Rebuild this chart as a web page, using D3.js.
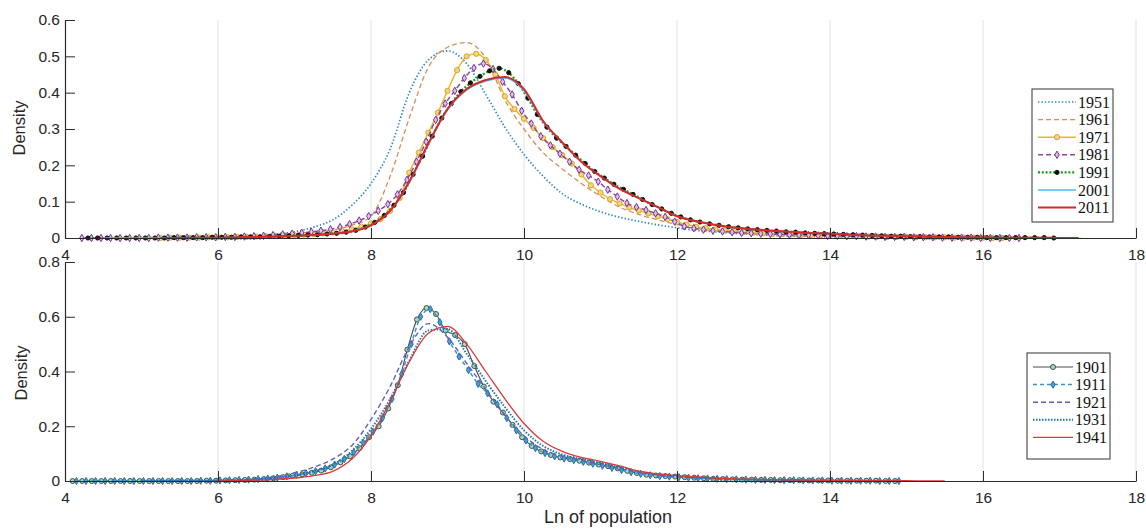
<!DOCTYPE html>
<html>
<head>
<meta charset="utf-8">
<script src="https://cdn.jsdelivr.net/npm/d3@7"></script>
<style>
  body { margin: 0; background: #fff; }
  svg { display: block; }
</style>
</head>
<body>
<svg id="chart" width="1146" height="529"></svg>
<script>
// ---- tick labels ----
const xTicks = [4, 6, 8, 10, 12, 14, 16, 18];
const topYTicks = [0, 0.1, 0.2, 0.3, 0.4, 0.5, 0.6];
const bottomYTicks = [0, 0.2, 0.4, 0.6, 0.8];

// ---- categories ----
const topYears = ["1951", "1961", "1971", "1981", "1991", "2001", "2011"];
const bottomYears = ["1901", "1911", "1921", "1931", "1941"];

// ---- kernel density estimates of ln(population), per census year ----
// each grid is [first x, spacing]; values are densities at those x
const grid1951 = [4.5, 0.25];
const dens1951 = [0,0,0.001,0.001,0.002,0.002,0.003,0.005,
  0.007,0.011,0.017,0.03,0.05,0.09,0.15,0.245,
  0.4,0.49,0.515,0.48,0.395,0.305,0.23,0.17,
  0.122,0.093,0.072,0.057,0.046,0.036,0.028,0.021,
  0.017,0.013,0.01,0.007,0.005,0.004,0.003,0.002,
  0.001,0.001,0];

const grid1961 = [4.5, 0.25];
const dens1961 = [0,0,0,0.001,0.001,0.002,0.003,0.004,
  0.006,0.008,0.011,0.016,0.022,0.035,0.06,0.17,
  0.33,0.47,0.525,0.538,0.495,0.38,0.3,0.235,
  0.19,0.15,0.115,0.085,0.065,0.05,0.037,0.027,
  0.02,0.015,0.011,0.008,0.006,0.005,0.004,0.003,
  0.002,0.002,0.001,0.001,0];

const grid1971 = [5.25, 0.125];
const dens1971 = [0,0.001,0.001,0.001,0.001,0.002,0.002,0.002,
  0.003,0.003,0.004,0.005,0.006,0.007,0.008,0.009,
  0.011,0.013,0.015,0.019,0.024,0.031,0.04,0.052,
  0.075,0.11,0.18,0.235,0.29,0.345,0.405,0.462,
  0.5,0.507,0.49,0.45,0.39,0.355,0.328,0.303,
  0.275,0.25,0.228,0.205,0.175,0.145,0.125,0.107,
  0.095,0.084,0.076,0.068,0.06,0.052,0.044,0.037,
  0.031,0.027,0.024,0.021,0.019,0.017,0.015,0.013,
  0.012,0.011,0.01,0.009,0.008,0.007,0.006,0.006,
  0.005,0.005,0.004,0.004,0.003,0.003,0.003,0.002,
  0.002,0.002,0.002,0.001,0.001,0.001,0.001,0,
  0];

const grid1981 = [4.22, 0.125];
const dens1981 = [0,0,0,0,0,0,0,0,
  0.001,0.001,0.001,0.001,0.002,0.002,0.002,0.003,
  0.003,0.004,0.005,0.006,0.008,0.01,0.012,0.014,
  0.017,0.02,0.024,0.03,0.038,0.048,0.06,0.075,
  0.093,0.12,0.16,0.21,0.265,0.325,0.37,0.405,
  0.44,0.468,0.48,0.465,0.43,0.395,0.35,0.315,
  0.28,0.255,0.232,0.21,0.188,0.172,0.155,0.133,
  0.114,0.096,0.085,0.077,0.068,0.058,0.045,0.032,
  0.027,0.023,0.02,0.018,0.016,0.014,0.013,0.012,
  0.011,0.01,0.009,0.008,0.008,0.007,0.006,0.006,
  0.005,0.005,0.004,0.004,0.003,0.003,0.003,0.002,
  0.002,0.002,0.001,0.001,0.001,0.001,0,0,
  0,0,0];

const grid1991 = [4.3, 0.125];
const dens1991 = [0,0,0,0,0,0,0,0,
  0,0.001,0.001,0.001,0.001,0.002,0.002,0.002,
  0.003,0.003,0.003,0.004,0.005,0.006,0.007,0.008,
  0.009,0.011,0.013,0.016,0.021,0.03,0.043,0.062,
  0.09,0.125,0.175,0.225,0.28,0.33,0.37,0.403,
  0.427,0.445,0.46,0.467,0.455,0.425,0.385,0.34,
  0.305,0.275,0.252,0.228,0.205,0.183,0.165,0.148,
  0.134,0.12,0.106,0.092,0.08,0.068,0.058,0.05,
  0.044,0.039,0.035,0.031,0.028,0.025,0.023,0.021,
  0.019,0.017,0.016,0.014,0.013,0.012,0.011,0.01,
  0.009,0.008,0.007,0.006,0.005,0.005,0.004,0.004,
  0.003,0.003,0.003,0.002,0.002,0.002,0.001,0.001,
  0.001,0.001,0.001,0.001,0.001,0];

const grid2001 = [4.5, 0.25];
const dens2001 = [0,0,0,
  0,0,0.001,0.001,0.002,0.003,0.004,0.006,
  0.008,0.012,0.019,0.036,0.074,0.152,0.258,0.352,
  0.407,0.432,0.44,0.405,0.32,0.262,0.21,0.17,
  0.135,0.11,0.085,0.06,0.046,0.036,0.029,0.024,
  0.02,0.017,0.014,0.012,0.009,0.007,0.006,0.005,
  0.004,0.003,0.002,0.002,0.001,0.001,0.001,0];

const grid2011 = [5.25, 0.25];
const dens2011 = [0,0,0.001,0.001,0.002,0.003,0.004,0.006,
  0.008,0.012,0.018,0.035,0.075,0.155,0.26,0.355,
  0.41,0.435,0.443,0.41,0.322,0.263,0.21,0.17,
  0.135,0.11,0.085,0.06,0.046,0.036,0.029,0.024,
  0.02,0.017,0.014,0.012,0.009,0.007,0.006,0.005,
  0.004,0.003,0.002,0.002,0.001,0.001,0.001,0,
  0];

const grid1901 = [4.1, 0.125];
const dens1901 = [0,0,0,0,0,0,0,0,
  0,0,0,0,0,0,0.001,0.001,
  0.002,0.003,0.004,0.005,0.007,0.01,0.014,0.019,
  0.024,0.03,0.038,0.05,0.068,0.09,0.12,0.16,
  0.2,0.265,0.35,0.48,0.59,0.632,0.61,0.55,
  0.533,0.5,0.42,0.345,0.29,0.25,0.205,0.16,
  0.128,0.108,0.095,0.086,0.08,0.074,0.067,0.06,
  0.054,0.046,0.037,0.029,0.023,0.02,0.018,0.016,
  0.014,0.012,0.01,0.008,0.007,0.006,0.005,0.005,
  0.004,0.004,0.003,0.003,0.003,0.002,0.002,0.002,
  0.001,0.001,0.001,0.001,0.001,0,0];

const grid1911 = [4.15, 0.125];
const dens1911 = [0,0,0,0,0,0,0,0,
  0,0,0,0,0,0.001,0.001,0.002,
  0.003,0.004,0.005,0.007,0.009,0.012,0.017,0.022,
  0.028,0.036,0.046,0.06,0.08,0.105,0.14,0.18,
  0.23,0.3,0.39,0.5,0.6,0.628,0.58,0.51,
  0.455,0.405,0.355,0.32,0.28,0.23,0.185,0.148,
  0.12,0.102,0.09,0.082,0.076,0.07,0.063,0.056,
  0.048,0.04,0.032,0.026,0.021,0.018,0.016,0.014,
  0.012,0.01,0.009,0.008,0.007,0.006,0.005,0.004,
  0.004,0.003,0.003,0.003,0.002,0.002,0.002,0.001,
  0.001,0.001,0.001,0.001,0,0,0];

const grid1921 = [5.0, 0.25];
const dens1921 = [0,0,0.001,0.001,0.002,0.004,0.008,0.016,
  0.03,0.05,0.08,0.13,0.225,0.345,0.49,0.575,
  0.525,0.43,0.335,0.24,0.165,0.115,0.09,0.075,
  0.06,0.045,0.032,0.022,0.016,0.012,0.009,0.007,
  0.005,0.004,0.003,0.002,0.002,0.001,0.001,0.001,
  0];

const grid1931 = [5.0, 0.25];
const dens1931 = [0,0,0.001,0.001,0.002,0.003,0.006,0.011,
  0.02,0.035,0.06,0.11,0.19,0.3,0.44,0.55,
  0.555,0.465,0.365,0.27,0.185,0.128,0.097,0.08,
  0.066,0.05,0.035,0.024,0.017,0.013,0.01,0.007,
  0.005,0.004,0.003,0.002,0.002,0.001,0.001,0.001,
  0];

const grid1941 = [6.0, 0.25];
const dens1941 = [0,0.001,0.003,0.006,0.011,0.02,0.035,0.08,
  0.165,0.29,0.435,0.54,0.565,0.5,0.4,0.3,
  0.21,0.145,0.108,0.086,0.072,0.055,0.036,0.026,
  0.02,0.015,0.011,0.008,0.006,0.005,0.004,0.003,
  0.002,0.002,0.001,0.001,0.001,0,0];

// ---- series tables ----
const toPoints = (grid, vals) => vals.map((v, i) => ({ x: grid[0] + i * grid[1], y: v }));

const topSeries = [
  { name: topYears[0], pts: toPoints(grid1951, dens1951), color: "#2a86bf", width: 1.7, dash: "1.4 2" },
  { name: topYears[1], pts: toPoints(grid1961, dens1961), color: "#d98b5a", width: 1.3, dash: "5 3" },
  { name: topYears[2], pts: toPoints(grid1971, dens1971), color: "#e8b830", width: 1.5, dash: null,
    marker: { type: "circle", r: 2.6, fill: "#f3d57e", stroke: "#d9a520" } },
  { name: topYears[3], pts: toPoints(grid1981, dens1981), color: "#8a4a9e", width: 1.5, dash: "5 3",
    marker: { type: "diamond", size: 16, fill: "#dcc3ea", stroke: "#7e2f8e" } },
  { name: topYears[4], pts: toPoints(grid1991, dens1991), color: "#1a9a1a", width: 2.2, dash: "2 1.8",
    marker: { type: "circle", r: 2.1, fill: "#111", stroke: "#111" } },
  { name: topYears[5], pts: toPoints(grid2001, dens2001), color: "#4dbeee", width: 1.4, dash: null },
  { name: topYears[6], pts: toPoints(grid2011, dens2011), color: "#d42a2a", width: 2, dash: null }
];

const bottomSeries = [
  { name: bottomYears[0], pts: toPoints(grid1901, dens1901), color: "#4a4a4a", width: 1.1, dash: null,
    marker: { type: "circle", r: 2.5, fill: "#b7cfbd", stroke: "#2f5a45" } },
  { name: bottomYears[1], pts: toPoints(grid1911, dens1911), color: "#3a93cc", width: 1.5, dash: "4 3",
    marker: { type: "diamond", size: 15, fill: "#4a9ed6", stroke: "#2a6fa0" } },
  { name: bottomYears[2], pts: toPoints(grid1921, dens1921), color: "#6262b2", width: 1.4, dash: "5 3" },
  { name: bottomYears[3], pts: toPoints(grid1931, dens1931), color: "#1f72b0", width: 1.9, dash: "1.5 1.5" },
  { name: bottomYears[4], pts: toPoints(grid1941, dens1941), color: "#d83a3a", width: 1.3, dash: null }
];

// ---- layout ----
const svg = d3.select("#chart");
const x = d3.scaleLinear().domain([4, 18]).range([65, 1136]);
const yTop = d3.scaleLinear().domain([0, 0.6]).range([238, 20]);
const yBot = d3.scaleLinear().domain([0, 0.8]).range([481, 262]);

const axisColor = "#2b2b2b";
const sansFont = "'Liberation Sans', Arial, Helvetica, sans-serif";
const serifFont = "'Liberation Serif', 'Times New Roman', serif";

function drawMarker(sel, m, cx, cy) {
  if (m.type === "circle") {
    sel.append("circle").attr("cx", cx).attr("cy", cy).attr("r", m.r)
      .attr("fill", m.fill).attr("stroke", m.stroke).attr("stroke-width", 1);
  } else {
    sel.append("path").attr("d", d3.symbol(d3.symbolDiamond, m.size)())
      .attr("transform", `translate(${cx},${cy})`)
      .attr("fill", m.fill).attr("stroke", m.stroke).attr("stroke-width", 1);
  }
}

function drawPanel(y, yTicks, series, legend, labelPos) {
  const g = svg.append("g");
  const [yBottom, yTopPx] = y.range();

  // vertical grid
  g.append("g").selectAll("line").data(xTicks.slice(1)).join("line")
    .attr("x1", d => x(d)).attr("x2", d => x(d))
    .attr("y1", yTopPx).attr("y2", yBottom)
    .attr("stroke", "#e2e2e2").attr("stroke-width", 1);

  // density curves
  const line = d3.line().x(d => x(d.x)).y(d => y(d.y)).curve(d3.curveMonotoneX);
  series.forEach(s => {
    const sg = g.append("g");
    sg.append("path").datum(s.pts).attr("d", line)
      .attr("fill", "none").attr("stroke", s.color).attr("stroke-width", s.width)
      .attr("stroke-dasharray", s.dash).attr("stroke-linejoin", "round");
    if (s.marker) {
      s.pts.forEach(p => drawMarker(sg, s.marker, x(p.x), y(p.y)));
    }
  });

  // axes
  const ax = g.append("g").attr("transform", `translate(0,${yBottom})`)
    .call(d3.axisBottom(x).tickValues(xTicks).tickSizeInner(-10).tickSizeOuter(0)
      .tickPadding(11).tickFormat(d3.format("d")));
  const ay = g.append("g").attr("transform", `translate(${x.range()[0]},0)`)
    .call(d3.axisLeft(y).tickValues(yTicks).tickSizeInner(-10).tickSizeOuter(0)
      .tickPadding(5).tickFormat(d => d === 0 ? "0" : d3.format(".1f")(d)));
  [ax, ay].forEach(a => {
    a.select(".domain").attr("stroke", axisColor).attr("stroke-width", 1.2);
    a.selectAll(".tick line").attr("stroke", axisColor).attr("stroke-width", 1);
    a.selectAll(".tick text").attr("fill", "#262626")
      .style("font-family", sansFont).style("font-size", "15.5px");
  });

  // y label
  g.append("text").attr("transform", `translate(${labelPos[0]},${labelPos[1]}) rotate(-90)`)
    .attr("text-anchor", "middle").attr("fill", "#262626")
    .style("font-family", sansFont).style("font-size", "16.5px").text("Density");

  // legend
  const lg = g.append("g");
  lg.append("rect").attr("x", legend.x).attr("y", legend.y)
    .attr("width", legend.w).attr("height", legend.h)
    .attr("fill", "#fff").attr("stroke", "#333").attr("stroke-width", 1);
  series.forEach((s, i) => {
    const cy = legend.y + legend.first + i * legend.step;
    const x1 = legend.x + 6, x2 = legend.x + 6 + legend.sample;
    lg.append("line").attr("x1", x1).attr("x2", x2).attr("y1", cy).attr("y2", cy)
      .attr("stroke", s.color).attr("stroke-width", s.width)
      .attr("stroke-dasharray", s.dash);
    if (s.marker) drawMarker(lg, s.marker, (x1 + x2) / 2, cy);
    lg.append("text").attr("x", x2 + 2).attr("y", cy).attr("dy", "0.35em")
      .attr("fill", "#111").style("font-family", serifFont).style("font-size", "16px")
      .text(s.name);
  });
}

drawPanel(yTop, topYTicks, topSeries,
  { x: 1032, y: 89, w: 81, h: 133, first: 13, step: 17.6, sample: 38 }, [25, 128]);
drawPanel(yBot, bottomYTicks, bottomSeries,
  { x: 1027, y: 353, w: 83, h: 106, first: 14, step: 17.6, sample: 40 }, [27, 373]);

// shared x label
svg.append("text").attr("x", 608).attr("y", 523)
  .attr("text-anchor", "middle").attr("fill", "#262626")
  .style("font-family", sansFont).style("font-size", "18px").text("Ln of population");
</script>
</body>
</html>
